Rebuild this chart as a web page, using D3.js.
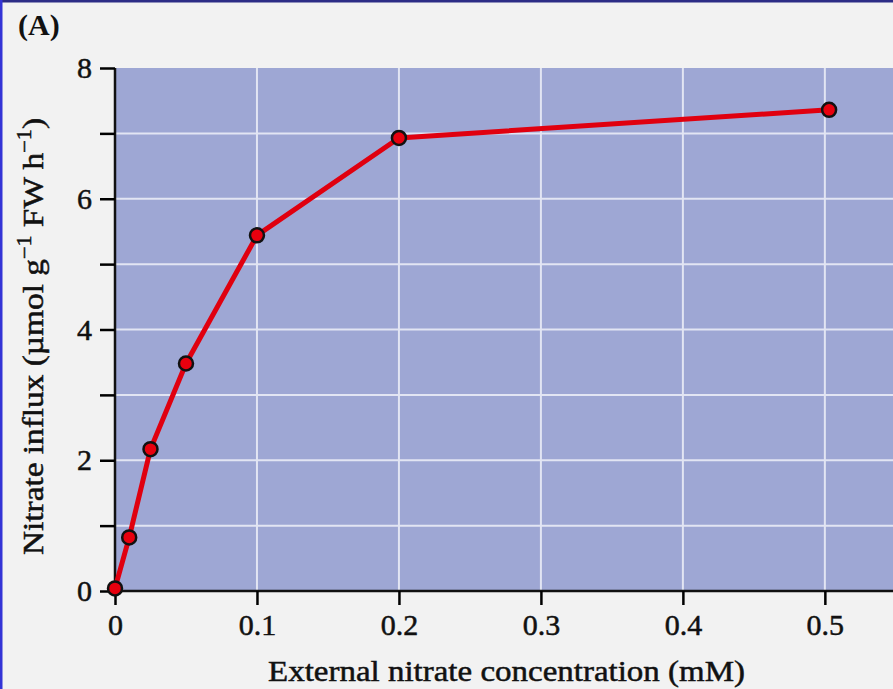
<!DOCTYPE html>
<html>
<head>
<meta charset="utf-8">
<script src="https://cdn.jsdelivr.net/npm/d3@7"></script>
<style>
  body { margin: 0; background: #f2f2f2; }
  svg { display: block; }
</style>
</head>
<body>
<div id="container"></div>
<script>
/* CONSTANTS AND GLOBALS */
const width = 893,
  height = 689,
  margin = {top: 68, bottom: 98, left: 115, right: 0},
  radius = 7;

/* DATA */
const concentration = [0, 0.01, 0.025, 0.05, 0.1, 0.2, 0.503];
const influx = [0.04, 0.82, 2.17, 3.48, 5.44, 6.93, 7.36];
const xTicks = [0, 0.1, 0.2, 0.3, 0.4, 0.5];
const yTicks = [0, 1, 2, 3, 4, 5, 6, 7, 8];
const yLabelled = [0, 2, 4, 6, 8];

const points = concentration.map((c, i) => ({x: c, y: influx[i]}));

/* SCALES */
const xScale = d3.scaleLinear()
  .domain([0, 0.548])
  .range([margin.left, width - margin.right]);

const yScale = d3.scaleLinear()
  .domain([0, 8])
  .range([height - margin.bottom, margin.top]);

const font = "'Liberation Serif', 'Times New Roman', serif";

/* HTML ELEMENTS */
const svg = d3.select("#container")
  .append("svg")
  .attr("width", width)
  .attr("height", height)
  .style("background-color", "#f2f2f2");

// frame lines
svg.append("rect").attr("x", 0).attr("y", 0).attr("width", width).attr("height", 2.5).attr("fill", "#2c2c86");
svg.append("rect").attr("x", 0).attr("y", 0).attr("width", 2.5).attr("height", height).attr("fill", "#3434d6");

// plot background
svg.append("rect")
  .attr("x", margin.left)
  .attr("y", margin.top)
  .attr("width", width - margin.right - margin.left)
  .attr("height", height - margin.bottom - margin.top)
  .attr("fill", "#9ea7d4");

// grid
svg.append("g")
  .selectAll("line")
  .data(yTicks.filter(d => d > 0 && d < 8))
  .join("line")
  .attr("x1", margin.left).attr("x2", width)
  .attr("y1", d => yScale(d)).attr("y2", d => yScale(d))
  .attr("stroke", "#e2e5f3").attr("stroke-width", 2);

svg.append("g")
  .selectAll("line")
  .data(xTicks.filter(d => d > 0))
  .join("line")
  .attr("x1", d => xScale(d)).attr("x2", d => xScale(d))
  .attr("y1", margin.top).attr("y2", height - margin.bottom)
  .attr("stroke", "#e2e5f3").attr("stroke-width", 2);

// axes
const xAxis = d3.axisBottom(xScale)
  .tickValues(xTicks)
  .tickSize(14)
  .tickPadding(9)
  .tickFormat(d => d === 0 ? "0" : d3.format(".1f")(d));

const yAxis = d3.axisLeft(yScale)
  .tickValues(yTicks)
  .tickSize(15)
  .tickPadding(8)
  .tickFormat(d => yLabelled.includes(d) ? d : "");

// slightly heavier serif text, like the print original
const textStyle = sel => sel
  .style("font-family", font)
  .style("font-size", "30px")
  .attr("fill", "#111")
  .attr("stroke", "#111")
  .attr("stroke-width", 0.5);

svg.append("g")
  .attr("transform", `translate(0,${height - margin.bottom})`)
  .call(xAxis)
  .call(g => g.select(".domain").attr("d", `M${margin.left},0H${width}`))
  .call(g => g.selectAll("line").attr("stroke-width", 2.5))
  .call(g => g.selectAll("text").call(textStyle));

svg.append("g")
  .attr("transform", `translate(${margin.left},0)`)
  .call(yAxis)
  .call(g => g.select(".domain").attr("d", `M0,${margin.top}V${height - margin.bottom}`))
  .call(g => g.selectAll("line").attr("stroke-width", 2.5))
  .call(g => g.selectAll("text").call(textStyle));

svg.selectAll(".domain").attr("stroke-width", 2.5).attr("stroke", "#111");

// line
const line = d3.line()
  .x(d => xScale(d.x))
  .y(d => yScale(d.y));

svg.append("path")
  .datum(points)
  .attr("d", line)
  .attr("fill", "none")
  .attr("stroke", "#e0000f")
  .attr("stroke-width", 5)
  .attr("stroke-linejoin", "round");

// circles
svg.selectAll("circle")
  .data(points)
  .join("circle")
  .attr("r", radius)
  .attr("cx", d => xScale(d.x))
  .attr("cy", d => yScale(d.y))
  .attr("fill", "#e8000e")
  .attr("stroke", "#111")
  .attr("stroke-width", 2.5);

// labels
svg.append("text")
  .attr("x", 18).attr("y", 35)
  .style("font-family", font).style("font-weight", "bold").style("font-size", "30px")
  .attr("fill", "#111")
  .text("(A)");

svg.append("text")
  .attr("x", 268).attr("y", 681)
  .attr("textLength", 477).attr("lengthAdjust", "spacingAndGlyphs")
  .call(textStyle)
  .text("External nitrate concentration (mM)");

const yLabel = svg.append("text")
  .attr("transform", "translate(43,555) rotate(-90)")
  .call(textStyle)
  .attr("textLength", 437).attr("lengthAdjust", "spacingAndGlyphs");
yLabel.append("tspan").text("Nitrate influx (µmol g");
yLabel.append("tspan").style("font-size", "20px").attr("dy", -12).text("−1");
yLabel.append("tspan").attr("dy", 12).text(" FW h");
yLabel.append("tspan").style("font-size", "20px").attr("dy", -12).text("−1");
yLabel.append("tspan").attr("dy", 12).text(")");
</script>
</body>
</html>
